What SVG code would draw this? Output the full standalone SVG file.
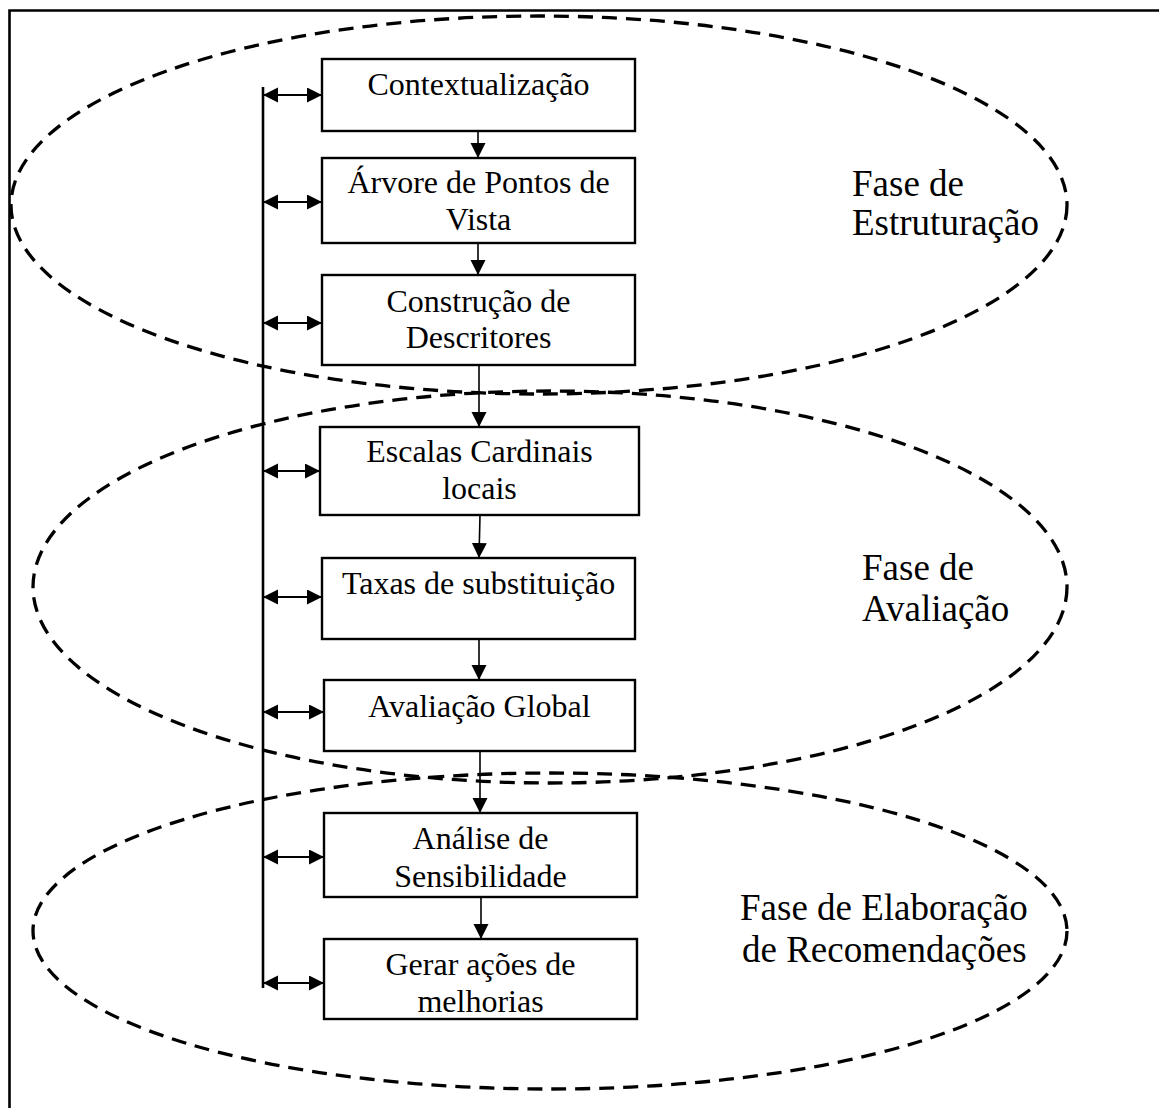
<svg xmlns="http://www.w3.org/2000/svg" width="1159" height="1108" viewBox="0 0 1159 1108">
<style>
.box{fill:#fff;stroke:#000;stroke-width:2.4}
.t{font-family:"Liberation Serif","Times New Roman",serif;font-size:32px;fill:#000;text-anchor:middle}
.ph{font-family:"Liberation Serif","Times New Roman",serif;font-size:37px;fill:#000}
.ell{fill:none;stroke:#000;stroke-width:3.3;stroke-dasharray:15 9}
.c{stroke:#000;stroke-width:1.6;fill:none}
.d{stroke:#000;stroke-width:2;fill:none}
</style>
<defs>
<marker id="ah" markerWidth="16" markerHeight="16" refX="15" refY="7.5" orient="auto-start-reverse" markerUnits="userSpaceOnUse"><path d="M0,0 L15,7.5 L0,15 z" fill="#000"/></marker>
</defs>
<rect width="1159" height="1108" fill="#fff"/>
<g id="frame"><path d="M9.5,1108 V10.5 H1159" fill="none" stroke="#000" stroke-width="2.6"/></g>
<g id="phases">
<ellipse class="ell" cx="539" cy="205" rx="528" ry="189"/>
<ellipse class="ell" cx="550" cy="587" rx="517" ry="196"/>
<ellipse class="ell" cx="550" cy="931" rx="517" ry="158"/>
</g>
<g id="connectors">
<line x1="263" y1="87" x2="263" y2="988" stroke="#000" stroke-width="2.6"/>
<line class="d" x1="263" y1="95" x2="322" y2="95" marker-start="url(#ah)" marker-end="url(#ah)"/>
<line class="d" x1="263" y1="202" x2="322" y2="202" marker-start="url(#ah)" marker-end="url(#ah)"/>
<line class="d" x1="263" y1="323" x2="322" y2="323" marker-start="url(#ah)" marker-end="url(#ah)"/>
<line class="d" x1="263" y1="471" x2="320" y2="471" marker-start="url(#ah)" marker-end="url(#ah)"/>
<line class="d" x1="263" y1="597" x2="322" y2="597" marker-start="url(#ah)" marker-end="url(#ah)"/>
<line class="d" x1="263" y1="712" x2="324" y2="712" marker-start="url(#ah)" marker-end="url(#ah)"/>
<line class="d" x1="263" y1="857" x2="324" y2="857" marker-start="url(#ah)" marker-end="url(#ah)"/>
<line class="d" x1="263" y1="983" x2="324" y2="983" marker-start="url(#ah)" marker-end="url(#ah)"/>
<line class="c" x1="478" y1="131" x2="478" y2="158" marker-end="url(#ah)"/>
<line class="c" x1="478" y1="243" x2="478" y2="275" marker-end="url(#ah)"/>
<line class="c" x1="479" y1="365" x2="479" y2="427" marker-end="url(#ah)"/>
<line class="c" x1="480" y1="515" x2="479" y2="558" marker-end="url(#ah)"/>
<line class="c" x1="479" y1="639" x2="479" y2="680" marker-end="url(#ah)"/>
<line class="c" x1="480" y1="751" x2="480" y2="813" marker-end="url(#ah)"/>
<line class="c" x1="481" y1="897" x2="481" y2="939" marker-end="url(#ah)"/>
</g>
<g id="n1"><rect class="box" x="322" y="59" width="313" height="72"/><text class="t" x="478.5" y="95">Contextualização</text></g>
<g id="n2"><rect class="box" x="322" y="158" width="313" height="85"/><text class="t" x="478.5" y="193">Árvore de Pontos de</text><text class="t" x="478.5" y="230">Vista</text></g>
<g id="n3"><rect class="box" x="322" y="275" width="313" height="90"/><text class="t" x="478.5" y="312">Construção de</text><text class="t" x="478.5" y="348">Descritores</text></g>
<g id="n4"><rect class="box" x="320" y="427" width="319" height="88"/><text class="t" x="479.5" y="462">Escalas Cardinais</text><text class="t" x="479.5" y="499">locais</text></g>
<g id="n5"><rect class="box" x="322" y="558" width="313" height="81"/><text class="t" x="478.5" y="594">Taxas de substituição</text></g>
<g id="n6"><rect class="box" x="324" y="680" width="311" height="71"/><text class="t" x="479.5" y="717">Avaliação Global</text></g>
<g id="n7"><rect class="box" x="324" y="813" width="313" height="84"/><text class="t" x="480.5" y="849">Análise de</text><text class="t" x="480.5" y="887">Sensibilidade</text></g>
<g id="n8"><rect class="box" x="324" y="939" width="313" height="80"/><text class="t" x="480.5" y="975">Gerar ações de</text><text class="t" x="480.5" y="1012">melhorias</text></g>
<g id="labels">
<text class="ph" x="852" y="196">Fase de</text>
<text class="ph" x="852" y="235">Estruturação</text>
<text class="ph" x="862" y="580">Fase de</text>
<text class="ph" x="862" y="621">Avaliação</text>
<text class="ph" x="740" y="920">Fase de Elaboração</text>
<text class="ph" x="742" y="962">de Recomendações</text>
</g>
</svg>
